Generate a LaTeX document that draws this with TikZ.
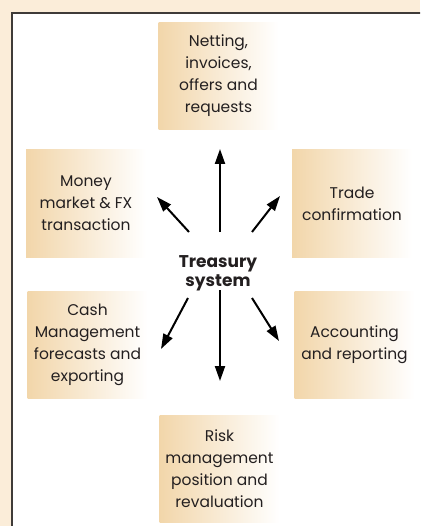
\documentclass[tikz,border=0pt]{standalone}
\usepackage{fontspec}
\setmainfont{Poppins}
\usetikzlibrary{arrows.meta}
\definecolor{cream}{HTML}{FBEDD9}
\definecolor{peach}{HTML}{F2D6AA}
\definecolor{ink}{HTML}{231F20}
\definecolor{frame}{HTML}{3F3B38}
\begin{document}
\begin{tikzpicture}[x=1pt,y=-1pt,
  topic/.style={left color=peach, right color=white, inner sep=0pt,
    minimum width=120pt, minimum height=107pt, align=center, text=ink,
    font=\fontsize{15.5}{22}\selectfont},
  hub/.style={align=center, text=ink, inner sep=0pt,
    font=\bfseries\fontsize{17}{19}\selectfont},
  flow/.style={line width=2pt, draw=black, -{Triangle[length=15pt,width=10pt]}}]
  \useasboundingbox (0,0) rectangle (420,526);
  \clip (0,0) rectangle (420,526);
  % page background and white panel
  \fill[cream] (0,0) rectangle (420,526);
  \draw[line width=2pt, draw=frame, fill=white] (12,13) rectangle (440,550);

  % topic boxes
  \node[topic] (net)  at (218.5,76)   {Netting,\\invoices,\\offers and\\requests};
  \node[topic] (mm)   at (86,203.5)   {Money\\market \& FX\\transaction};
  \node[topic] (tc)   at (352,203.5)  {Trade\\confirmation};
  \node[topic] (cash) at (87.5,344.5) {Cash\\Management\\forecasts and\\exporting};
  \node[topic] (acc)  at (354.5,344.5){Accounting\\and reporting};
  \node[topic] (risk) at (219.5,468.5){Risk\\management\\position and\\revaluation};

  % hub
  \node[hub] (ts) at (218,273) {Treasury\\system};

  % arrow tails and tips
  \coordinate (tN)  at (220,232); \coordinate (hN)  at (220,149);
  \coordinate (tNW) at (189,232); \coordinate (hNW) at (157,197);
  \coordinate (tNE) at (252,232); \coordinate (hNE) at (280,196);
  \coordinate (tS)  at (220,290); \coordinate (hS)  at (220,381);
  \coordinate (tSW) at (188,298); \coordinate (hSW) at (161,349);
  \coordinate (tSE) at (252,298); \coordinate (hSE) at (279,341);

  \draw[flow] (tN)  -- (hN);
  \draw[flow] (tNW) -- (hNW);
  \draw[flow] (tNE) -- (hNE);
  \draw[flow] (tS)  -- (hS);
  \draw[flow] (tSW) -- (hSW);
  \draw[flow] (tSE) -- (hSE);
\end{tikzpicture}
\end{document}
